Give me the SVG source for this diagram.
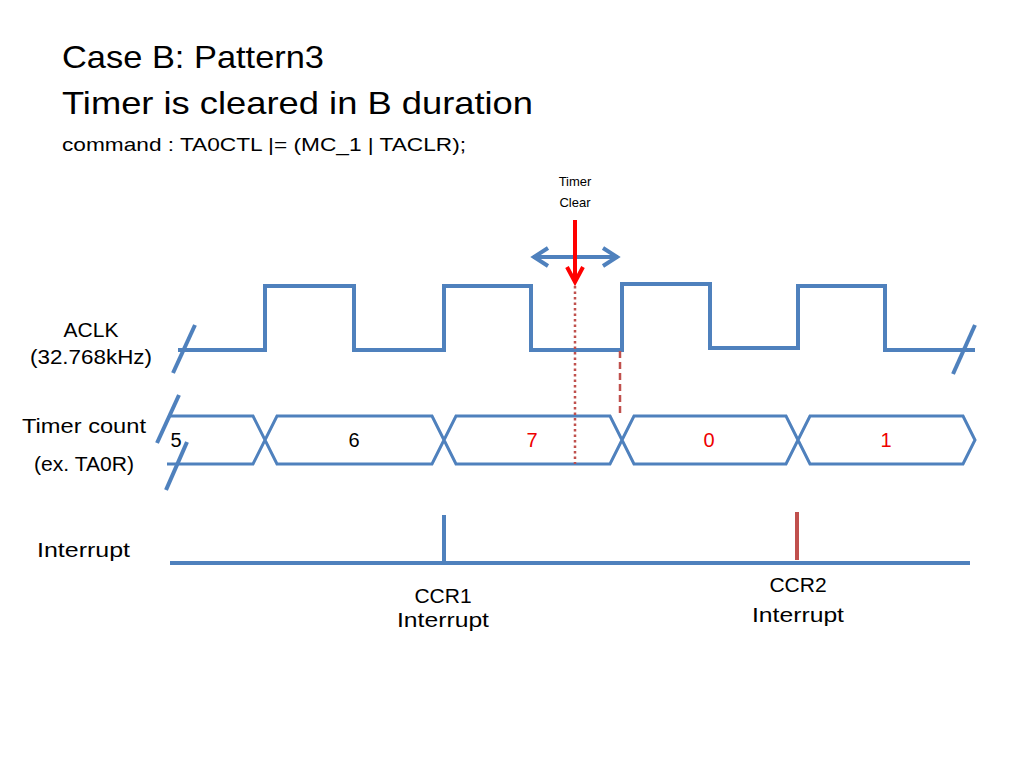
<svg xmlns="http://www.w3.org/2000/svg" width="1024" height="768" viewBox="0 0 1024 768">
<style>
.t{font-family:"Liberation Sans",Arial,sans-serif;fill:#000}
.w{fill:none;stroke:#4f81bd;stroke-width:4;stroke-linejoin:miter}
.h{fill:none;stroke:#4f81bd;stroke-width:3}
.c{text-anchor:middle}
</style>
<rect width="1024" height="768" fill="#fff"/>
<g id="title">
<text class="t" x="62" y="68" font-size="32" textLength="262" lengthAdjust="spacingAndGlyphs">Case B: Pattern3</text>
<text class="t" x="62" y="114" font-size="32" textLength="471" lengthAdjust="spacingAndGlyphs">Timer is cleared in B duration</text>
<text class="t" x="62" y="151" font-size="19" textLength="404" lengthAdjust="spacingAndGlyphs">command : TA0CTL |= (MC_1 | TACLR);</text>
</g>
<g id="labels">
<text class="t c" x="91" y="337" font-size="21">ACLK</text>
<text class="t c" x="91" y="364" font-size="21" textLength="122" lengthAdjust="spacingAndGlyphs">(32.768kHz)</text>
<text class="t c" x="84" y="433" font-size="21" textLength="124" lengthAdjust="spacingAndGlyphs">Timer count</text>
<text class="t c" x="84" y="471" font-size="21" textLength="100" lengthAdjust="spacingAndGlyphs">(ex. TA0R)</text>
<text class="t" x="37" y="557" font-size="21" textLength="93" lengthAdjust="spacingAndGlyphs">Interrupt</text>
</g>
<g id="aclk">
<path class="w" d="M178,350 H265 V286 H354 V350 H444 V286 H531 V350 H622 V284 H710 V348 H798 V286 H885 V350 H975"/>
<line class="w" x1="173" y1="373" x2="195" y2="325"/>
<line class="w" x1="953" y1="374" x2="975" y2="325"/>
</g>
<g id="timer-count">
<path class="h" d="M170,416 H253 L277,464 H432 L456,416 H610 L634,464 H786 L810,416 H963 L975,440 L963,464 H810 L786,416 H634 L610,464 H456 L432,416 H277 L253,464 H167"/>
<line class="w" x1="179" y1="395" x2="157" y2="443"/>
<line class="w" x1="187" y1="442" x2="166" y2="490"/>
<text class="t c" x="176" y="447" font-size="20">5</text>
<text class="t c" x="354" y="447" font-size="20">6</text>
<text class="t c" x="532" y="447" font-size="20" style="fill:#e00">7</text>
<text class="t c" x="709" y="447" font-size="20" style="fill:#e00">0</text>
<text class="t c" x="886" y="447" font-size="20" style="fill:#e00">1</text>
</g>
<g id="timer-clear">
<text class="t c" x="575" y="186" font-size="13">Timer</text>
<text class="t c" x="575" y="207" font-size="13">Clear</text>
<line x1="533" y1="257" x2="618" y2="257" stroke="#4f81bd" stroke-width="4"/>
<path d="M548,248 L534,257 L548,266 M603,248 L617,257 L603,266" fill="none" stroke="#4f81bd" stroke-width="4"/>
<line x1="575" y1="220" x2="575" y2="281" stroke="#f00" stroke-width="4"/>
<path d="M567,267 L575,282 L583,267" fill="none" stroke="#f00" stroke-width="4"/>
</g>
<g id="connectors">
<line x1="575" y1="286" x2="575" y2="464" stroke="#c0504d" stroke-width="2.5" stroke-dasharray="2.5,3"/>
<line x1="620" y1="351" x2="620" y2="416" stroke="#c0504d" stroke-width="2.5" stroke-dasharray="7,4"/>
</g>
<g id="interrupt">
<line x1="170" y1="563" x2="970" y2="563" stroke="#4f81bd" stroke-width="4"/>
<line x1="444" y1="515" x2="444" y2="563" stroke="#4f81bd" stroke-width="4"/>
<line x1="797" y1="512" x2="797" y2="560" stroke="#c0504d" stroke-width="4"/>
<text class="t c" x="443" y="603" font-size="21">CCR1</text>
<text class="t c" x="443" y="627" font-size="21" textLength="92" lengthAdjust="spacingAndGlyphs">Interrupt</text>
<text class="t c" x="798" y="592" font-size="21">CCR2</text>
<text class="t c" x="798" y="622" font-size="21" textLength="92" lengthAdjust="spacingAndGlyphs">Interrupt</text>
</g>
</svg>
